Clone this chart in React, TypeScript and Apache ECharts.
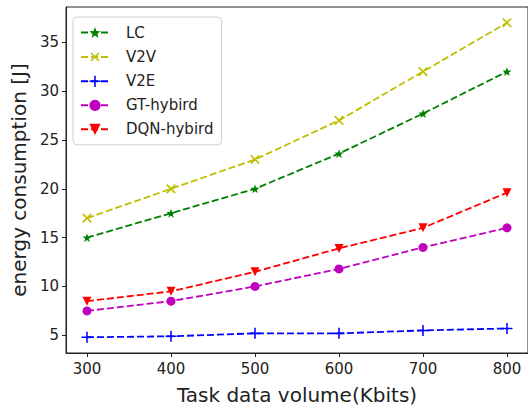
import React, { useEffect, useRef } from "react";
import * as echarts from "echarts";

const xValues = [300, 400, 500, 600, 700, 800];
const xTicks = [300, 400, 500, 600, 700, 800];
const yTicks = [5, 10, 15, 20, 25, 30, 35];

const seriesNames = ["LC", "V2V", "V2E", "GT-hybird", "DQN-hybird"];
const lcValues = [15, 17.5, 20, 23.6, 27.7, 32];
const v2vValues = [17, 20, 23, 27, 32, 37];
const v2eValues = [4.8, 4.9, 5.2, 5.2, 5.5, 5.7];
const gtValues = [7.5, 8.5, 10, 11.8, 14, 16];
const dqnValues = [8.5, 9.5, 11.5, 13.9, 16, 19.6];

const STAR =
  "path://M0,-10L2.35,-3.24L9.51,-3.09L3.8,1.24L5.88,8.09L0,4L-5.88,8.09L-3.8,1.24L-9.51,-3.09L-2.35,-3.24Z";
const PLUS = "path://M-0.7,-5H0.7V-0.7H5V0.7H0.7V5H-0.7V0.7H-5V-0.7H-0.7Z";

export default function App() {
  const ref = useRef<HTMLDivElement>(null);
  useEffect(() => {
    if (!ref.current) return;
    const chart = echarts.init(ref.current, null, { renderer: "svg" });
    const font = "DejaVu Sans";
    const mk = (
      name: string,
      values: number[],
      color: string,
      symbol: string,
      size: number,
      rotate = 0
    ) => ({
      name,
      type: "line",
      data: xValues.map((x, i) => [x, values[i]]),
      symbol,
      symbolSize: size,
      symbolRotate: rotate,
      showAllSymbol: true,
      color,
      itemStyle: { color },
      lineStyle: { color, width: 1.8, type: [7, 3] },
    });
    chart.setOption({
      animation: false,
      backgroundColor: "#fff",
      textStyle: { fontFamily: font },
      grid: {
        show: true,
        left: 66,
        top: 7,
        width: 468,
        height: 353,
        borderColor: "#222",
        borderWidth: 1,
        backgroundColor: "transparent",
      },
      legend: {
        orient: "vertical",
        left: 73,
        top: 17,
        data: seriesNames,
        itemWidth: 28,
        itemHeight: 14,
        itemGap: 9,
        padding: [8, 8, 8, 7],
        backgroundColor: "rgba(255,255,255,0.85)",
        borderColor: "#d0d0d0",
        borderWidth: 1,
        borderRadius: 4,
        textStyle: { fontFamily: font, fontSize: 15, color: "#222", padding: [0, 0, 0, 12] },
      },
      xAxis: {
        type: "value",
        min: 275,
        max: 825,
        name: "Task data volume(Kbits)",
        nameLocation: "middle",
        nameGap: 32,
        nameTextStyle: { fontFamily: font, fontSize: 20, color: "#222" },
        axisLine: { show: true, lineStyle: { color: "#222", width: 1 } },
        axisTick: {
          show: true,
          length: 4,
          customValues: xTicks,
          lineStyle: { color: "#222" },
        },
        axisLabel: {
          customValues: xTicks,
          fontFamily: font,
          fontSize: 15,
          color: "#222",
          margin: 8,
        },
        splitLine: { show: false },
      },
      yAxis: {
        type: "value",
        min: 3.19,
        max: 38.61,
        name: "energy consumption [J]",
        nameLocation: "middle",
        nameGap: 32,
        nameTextStyle: { fontFamily: font, fontSize: 20, color: "#222" },
        axisLine: { show: true, lineStyle: { color: "#222", width: 1 } },
        axisTick: {
          show: true,
          length: 4,
          customValues: yTicks,
          lineStyle: { color: "#222" },
        },
        axisLabel: {
          customValues: yTicks,
          fontFamily: font,
          fontSize: 15,
          color: "#222",
          margin: 7,
        },
        splitLine: { show: false },
      },
      series: [
        mk("LC", lcValues, "#008000", STAR, 9),
        mk("V2V", v2vValues, "#bfbf00", PLUS, 12, 45),
        mk("V2E", v2eValues, "#0000ff", PLUS, 11),
        mk("GT-hybird", gtValues, "#bf00bf", "circle", 9),
        mk("DQN-hybird", dqnValues, "#ff0000", "triangle", 9, 180),
      ],
    });
    return () => chart.dispose();
  }, []);
  return (
    <div
      ref={ref}
      style={{ position: "fixed", left: 0, top: 0, width: 528, height: 410, background: "#fff" }}
    />
  );
}
